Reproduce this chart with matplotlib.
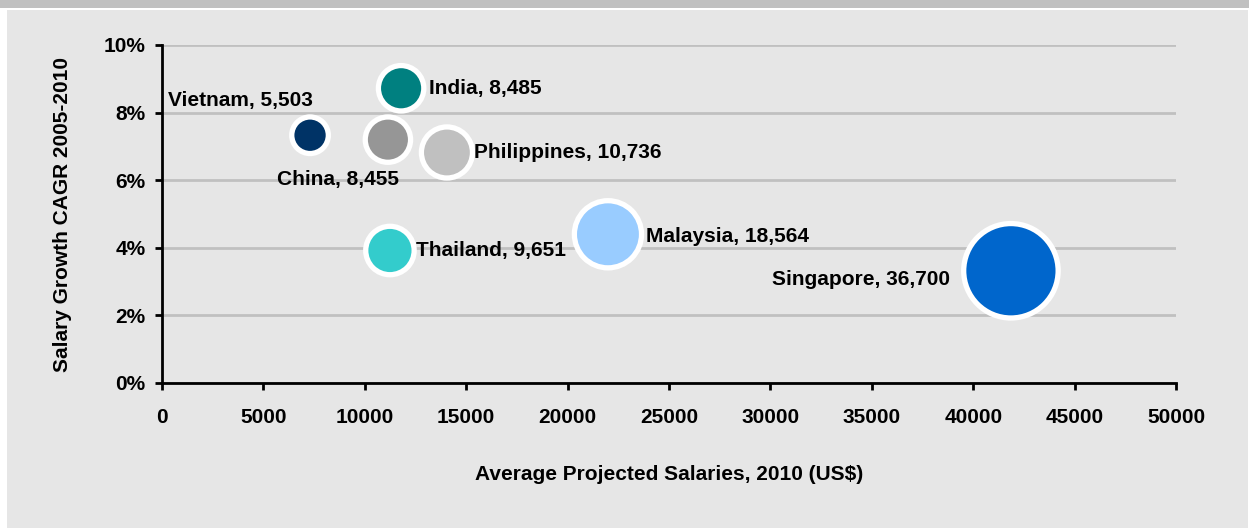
import matplotlib
matplotlib.use("Agg")
import matplotlib.pyplot as plt
from matplotlib.patches import Rectangle
from matplotlib.ticker import FuncFormatter

plt.rcParams["font.family"] = ["Liberation Sans", "DejaVu Sans"]
plt.rcParams["font.weight"] = "bold"

# datos
paises = ["Vietnam", "India", "China", "Philippines", "Thailand", "Malaysia", "Singapore"]
salario_x = [7300, 11790, 11140, 14050, 11240, 21990, 41860]
cagr = [7.33, 8.72, 7.20, 6.82, 3.92, 4.40, 3.32]
salario_etiqueta = [5503, 8485, 8455, 10736, 9651, 18564, 36700]
colores = ["#003366", "#008080", "#969696", "#c0c0c0", "#33cccc", "#99ccff", "#0066cc"]

# posicion de cada etiqueta (pixeles respecto al centro de la burbuja)
offsets = {
    "Vietnam": ((-70, 35), "center"),
    "India": ((28, 0), "left"),
    "China": ((-50, -40), "center"),
    "Philippines": ((27, 0), "left"),
    "Thailand": ((26, 0), "left"),
    "Malaysia": ((38, -2), "left"),
    "Singapore": ((-61, -9), "right"),
}

fig = plt.figure(figsize=(12.49, 5.29), dpi=100)
fig.patch.set_facecolor("white")
# banda superior y panel gris
fig.add_artist(Rectangle((0, 1 - 8 / 529), 1, 8 / 529, transform=fig.transFigure,
                         facecolor="#c0c0c0", edgecolor="none", zorder=-2))
fig.add_artist(Rectangle((7 / 1249, 1 / 529), 1 - 8 / 1249, 1 - 11 / 529,
                         transform=fig.transFigure, facecolor="#e6e6e6",
                         edgecolor="none", zorder=-2))

ax = fig.add_axes([162 / 1249, 1 - 383 / 529, (1176 - 162) / 1249, (383 - 45) / 529])
ax.set_facecolor("none")

k = 0.126
ax.scatter(salario_x, cagr, s=[v * k for v in salario_etiqueta], c=colores,
           edgecolors="white", linewidths=3.8, zorder=3, clip_on=False)

for p, x, y, v in zip(paises, salario_x, cagr, salario_etiqueta):
    (dx, dy), ha = offsets[p]
    ax.annotate(f"{p}, {v:,}", (x, y), xytext=(dx, dy), textcoords="offset pixels",
                ha=ha, va="center", fontsize=15, fontweight="bold", zorder=4)

ax.set_xlim(0, 50000)
ax.set_ylim(0, 10)
ax.set_xticks(range(0, 50001, 5000))
ax.set_yticks(range(0, 11, 2))
ax.yaxis.set_major_formatter(FuncFormatter(lambda v, _: f"{v:.0f}%"))
ax.grid(axis="y", color="#c0c0c0", lw=2, zorder=1)
ax.set_axisbelow(True)
for s in ["top", "right"]:
    ax.spines[s].set_visible(False)
for s in ["left", "bottom"]:
    ax.spines[s].set_linewidth(2)
    ax.spines[s].set_color("black")
ax.tick_params(direction="out", length=5, width=2, labelsize=15)
ax.tick_params(axis="x", pad=13)
ax.tick_params(axis="y", pad=7)
for lab in ax.get_xticklabels() + ax.get_yticklabels():
    lab.set_fontweight("bold")

ax.set_xlabel("Average Projected Salaries, 2010 (US$)", fontsize=15, fontweight="bold",
              labelpad=27)
ax.set_ylabel("Salary Growth CAGR 2005-2010", fontsize=15, fontweight="bold", labelpad=23)

fig.savefig("out.png", dpi=100)
